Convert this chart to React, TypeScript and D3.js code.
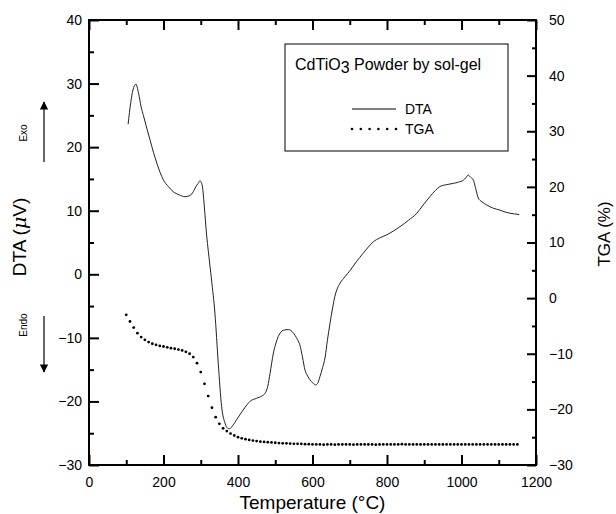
import { useEffect, useRef } from "react"
import * as d3 from "d3"

// DTA trace (left axis, µV)
const dtaTemps = [
  105, 112, 118, 126, 133, 140, 146, 155, 164, 173, 182, 191, 200, 213, 226, 242, 258, 271, 280, 287,
  293, 298, 302, 305, 308, 311, 316, 320, 329, 338, 347, 356, 365, 372, 377, 387, 396, 405, 418, 432,
  450, 465, 474, 480, 486, 495, 502, 508, 515, 522, 535, 545, 553, 560, 566, 573, 580, 587, 593, 601,
  609, 615, 620, 627, 634, 640, 647, 654, 660, 667, 674, 687, 701, 718, 736, 750, 763, 780, 799, 817,
  835, 858, 880, 897, 915, 930, 942, 960, 978, 992, 1005, 1012, 1018, 1024, 1032, 1038, 1045, 1055, 1068, 1085,
  1103, 1117, 1130, 1142, 1155,
]
const dtaValues = [
  23.6, 27.0, 29.0, 29.9, 28.5, 26.3, 25.0, 23.0, 21.1, 19.2, 17.5, 16.0, 14.8, 13.8, 13.0, 12.5, 12.2, 12.4, 13.0, 13.8,
  14.3, 14.7, 14.4, 13.6, 11.8, 9.6, 6.0, 3.8, -0.9, -6.1, -14.0, -20.8, -23.4, -24.2, -24.3, -23.7, -22.9, -22.1, -21.0, -20.0,
  -19.5, -19.1, -18.6, -17.6, -15.6, -12.4, -10.8, -9.8, -9.1, -8.8, -8.7, -9.0, -9.6, -10.3, -11.1, -13.0, -15.1, -16.0, -16.6, -17.1,
  -17.4, -17.0, -16.1, -14.7, -13.0, -10.4, -7.7, -5.3, -3.5, -2.2, -1.4, -0.4, 0.6, 2.0, 3.3, 4.3, 5.1, 5.7, 6.2, 6.8,
  7.5, 8.5, 9.6, 10.9, 12.2, 13.2, 13.8, 14.1, 14.3, 14.5, 14.8, 15.2, 15.6, 15.3, 14.8, 13.5, 12.0, 11.4, 10.9, 10.4,
  10.1, 9.8, 9.6, 9.5, 9.4,
]

// TGA trace (right axis, %), one dot every 10 °C from 100 to 1150
const tgaStart = 100
const tgaStep = 10
const tgaValues = [
  -3.0, -4.2, -5.3, -6.3, -7.0, -7.5, -7.9, -8.2, -8.4, -8.6,
  -8.7, -8.85, -9.0, -9.1, -9.25, -9.4, -9.65, -10.0, -10.6, -11.7,
  -13.3, -15.4, -17.6, -19.7, -21.4, -22.6, -23.4, -23.9, -24.35, -24.7,
  -25.0, -25.2, -25.35, -25.5, -25.6, -25.7, -25.8, -25.85, -25.9, -25.95,
  -26.0, -26.05, -26.1, -26.1, -26.15, -26.2, -26.2, -26.2, -26.25, -26.25,
  -26.3, -26.3, -26.3, -26.35, -26.3, -26.3, -26.35, -26.3, -26.3, -26.3,
  -26.3, -26.35, -26.3, -26.3, -26.3, -26.3, -26.3, -26.35, -26.3, -26.3,
  -26.3, -26.3, -26.3, -26.3, -26.25, -26.3, -26.3, -26.3, -26.3, -26.3,
  -26.3, -26.3, -26.3, -26.3, -26.3, -26.3, -26.3, -26.3, -26.3, -26.3,
  -26.3, -26.3, -26.3, -26.3, -26.3, -26.3, -26.3, -26.3, -26.3, -26.3,
  -26.3, -26.3, -26.3, -26.3, -26.3, -26.3,
]

const xDomain = [0, 1200]
const dtaDomain = [-30, 40]
const tgaDomain = [-30, 50]
const xMajor = [0, 200, 400, 600, 800, 1000, 1200]
const xMinor = [100, 300, 500, 700, 900, 1100]
const dtaMajor = [-30, -20, -10, 0, 10, 20, 30, 40]
const dtaMinor = [-25, -15, -5, 5, 15, 25, 35]
const tgaMajor = [-30, -20, -10, 0, 10, 20, 30, 40, 50]
const tgaMinor = [-25, -15, -5, 5, 15, 25, 35, 45]

const W = 616
const H = 514
const m = { left: 89, right: 80, top: 20, bottom: 49 }
const font = "'Liberation Sans', Arial, Helvetica, sans-serif"

const App = () => {
  const svgRef = useRef<SVGSVGElement>(null)

  useEffect(() => {
    if (!svgRef.current) return
    const svg = d3.select(svgRef.current)
    svg.selectAll("*").remove()

    const x = d3.scaleLinear().domain(xDomain).range([m.left, W - m.right])
    const yL = d3.scaleLinear().domain(dtaDomain).range([H - m.bottom, m.top])
    const yR = d3.scaleLinear().domain(tgaDomain).range([H - m.bottom, m.top])
    const x0 = m.left, x1 = W - m.right, y0 = H - m.bottom, y1 = m.top

    const styleAxis = (g: any) => {
      g.select(".domain").remove()
      g.selectAll("line").attr("stroke", "#000").attr("stroke-width", 2)
      g.selectAll("text").attr("fill", "#000").attr("font-family", font).attr("font-size", 14)
    }

    // bottom
    svg.append("g").attr("transform", `translate(0,${y0})`)
      .call(d3.axisBottom(x).tickValues(xMajor).tickSize(-10).tickPadding(12).tickFormat(d3.format("d")))
      .call(styleAxis)
    svg.append("g").attr("transform", `translate(0,${y0})`)
      .call(d3.axisBottom(x).tickValues(xMinor).tickSize(-5).tickFormat(() => ""))
      .call(styleAxis)
    // top (ticks only)
    svg.append("g").attr("transform", `translate(0,${y1})`)
      .call(d3.axisTop(x).tickValues(xMajor).tickSize(-10).tickFormat(() => ""))
      .call(styleAxis)
    svg.append("g").attr("transform", `translate(0,${y1})`)
      .call(d3.axisTop(x).tickValues(xMinor).tickSize(-5).tickFormat(() => ""))
      .call(styleAxis)
    // left
    svg.append("g").attr("transform", `translate(${x0},0)`)
      .call(d3.axisLeft(yL).tickValues(dtaMajor).tickSize(-10).tickPadding(7).tickFormat(d3.format("d")))
      .call(styleAxis)
    svg.append("g").attr("transform", `translate(${x0},0)`)
      .call(d3.axisLeft(yL).tickValues(dtaMinor).tickSize(-5).tickFormat(() => ""))
      .call(styleAxis)
    // right
    svg.append("g").attr("transform", `translate(${x1},0)`)
      .call(d3.axisRight(yR).tickValues(tgaMajor).tickSize(-9).tickPadding(13).tickFormat(d3.format("d")))
      .call(styleAxis)
    svg.append("g").attr("transform", `translate(${x1},0)`)
      .call(d3.axisRight(yR).tickValues(tgaMinor).tickSize(-4).tickFormat(() => ""))
      .call(styleAxis)

    // frame
    svg.append("rect")
      .attr("x", x0).attr("y", y1).attr("width", x1 - x0).attr("height", y0 - y1)
      .attr("fill", "none").attr("stroke", "#000").attr("stroke-width", 2)

    // DTA line
    const dta = dtaTemps.map((t, i) => [t, dtaValues[i]] as [number, number])
    const line = d3.line<[number, number]>().x((d) => x(d[0])).y((d) => yL(d[1])).curve(d3.curveMonotoneX)
    svg.append("path").datum(dta).attr("d", line).attr("fill", "none").attr("stroke", "#222").attr("stroke-width", 1)

    // TGA dots
    const tga = tgaValues.map((v, i) => [tgaStart + i * tgaStep, v] as [number, number])
    svg.append("g").selectAll("circle").data(tga).join("circle")
      .attr("cx", (d) => x(d[0])).attr("cy", (d) => yR(d[1])).attr("r", 1.4).attr("fill", "#000")

    // legend
    const lg = svg.append("g")
    lg.append("rect").attr("x", 285).attr("y", 44).attr("width", 223).attr("height", 107)
      .attr("fill", "#fff").attr("stroke", "#000").attr("stroke-width", 1)
    const title = lg.append("text").attr("x", 295).attr("y", 70).attr("font-family", font).attr("font-size", 16)
    title.append("tspan").text("CdTiO")
    title.append("tspan").attr("dy", 3).text("3")
    title.append("tspan").attr("dy", -3).text(" Powder by sol-gel")
    lg.append("line").attr("x1", 352).attr("x2", 396).attr("y1", 109).attr("y2", 109).attr("stroke", "#000").attr("stroke-width", 1)
    lg.append("text").attr("x", 405).attr("y", 114).attr("font-family", font).attr("font-size", 14).text("DTA")
    lg.selectAll("circle.k").data(d3.range(6)).join("circle").attr("class", "k")
      .attr("cx", (i) => 352 + i * 8.8).attr("cy", 129).attr("r", 1.3).attr("fill", "#000")
    lg.append("text").attr("x", 405).attr("y", 134).attr("font-family", font).attr("font-size", 14).text("TGA")

    // axis titles
    svg.append("text").attr("x", (x0 + x1) / 2).attr("y", 509).attr("text-anchor", "middle")
      .attr("font-family", font).attr("font-size", 19).text("Temperature (°C)")
    const lt = svg.append("text").attr("transform", "translate(26,237) rotate(-90)").attr("text-anchor", "middle")
      .attr("font-family", font).attr("font-size", 19)
    lt.append("tspan").text("DTA (")
    lt.append("tspan").attr("font-style", "italic").attr("font-family", "'DejaVu Serif', serif").text("\u03bc")
    lt.append("tspan").text("V)")
    svg.append("text").attr("transform", "translate(610,234) rotate(-90)").attr("text-anchor", "middle")
      .attr("font-family", font).attr("font-size", 17).text("TGA (%)")

    // Exo / Endo markers
    const defs = svg.append("defs")
    defs.append("marker").attr("id", "ah").attr("viewBox", "0 0 10 10").attr("refX", 9).attr("refY", 5)
      .attr("markerWidth", 7).attr("markerHeight", 7).attr("orient", "auto")
      .append("path").attr("d", "M0,0L10,5L0,10z").attr("fill", "#000")
    svg.append("line").attr("x1", 44).attr("x2", 44).attr("y1", 162).attr("y2", 102)
      .attr("stroke", "#000").attr("stroke-width", 1.2).attr("marker-end", "url(#ah)")
    svg.append("line").attr("x1", 44).attr("x2", 44).attr("y1", 316).attr("y2", 372)
      .attr("stroke", "#000").attr("stroke-width", 1.2).attr("marker-end", "url(#ah)")
    svg.append("text").attr("transform", "translate(27,133) rotate(-90)").attr("text-anchor", "middle")
      .attr("font-family", font).attr("font-size", 10).text("Exo")
    svg.append("text").attr("transform", "translate(27,325) rotate(-90)").attr("text-anchor", "middle")
      .attr("font-family", font).attr("font-size", 10).text("Endo")
  }, [])

  return (
    <svg ref={svgRef} width={W} height={H} style={{ position: "absolute", left: 0, top: 0, background: "#fff" }} />
  )
}

export default App
